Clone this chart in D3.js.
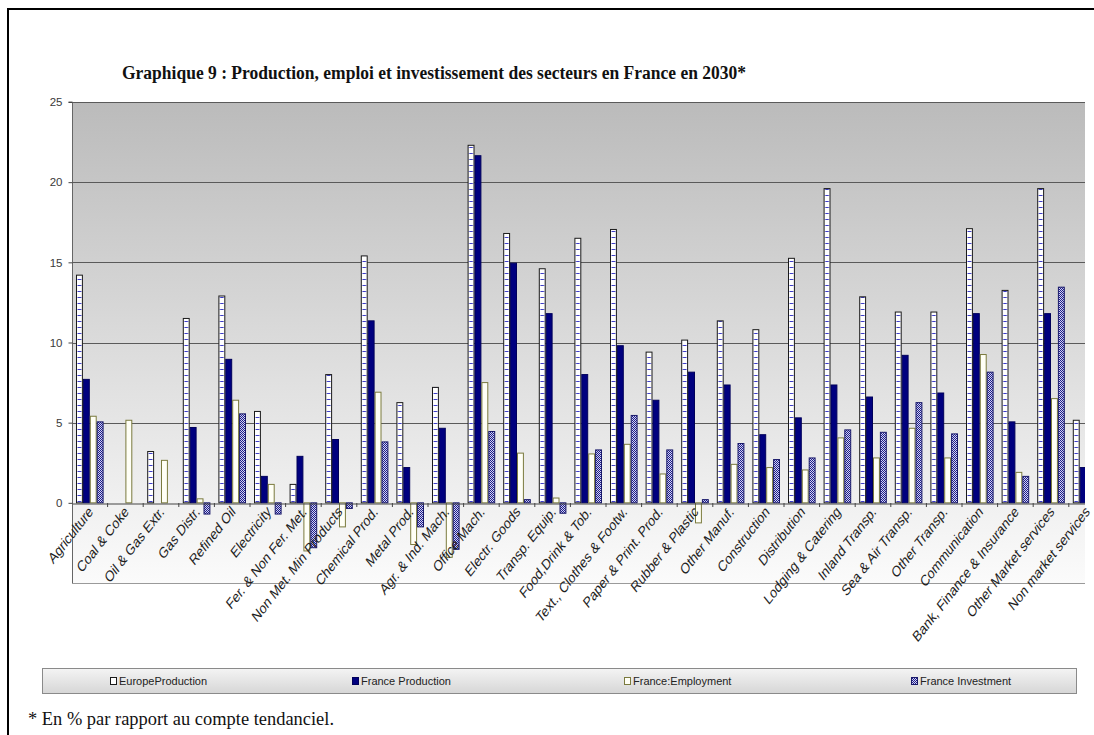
<!DOCTYPE html>
<html>
<head>
<meta charset="utf-8">
<script src="https://cdn.jsdelivr.net/npm/d3@7"></script>
<style>
  html, body { margin: 0; padding: 0; background: #fff; }
  svg { display: block; }
</style>
</head>
<body>
<svg id="chart" width="1094" height="735"></svg>
<script>
// ---------- DATA ----------
const categories = ["Agriculture", "Coal & Coke", "Oil & Gas Extr.", "Gas Distr.", "Refined Oil", "Electricity",
  "Fer. & Non Fer. Met.", "Non Met. Min Products", "Chemical Prod.", "Metal Prod.", "Agr. & Ind. Mach.",
  "Office Mach.", "Electr. Goods", "Transp. Equip.", "Food,Drink & Tob.", "Text., Clothes & Footw.",
  "Paper & Print. Prod.", "Rubber & Plastic", "Other Manuf.", "Construction", "Distribution",
  "Lodging & Catering", "Inland Transp.", "Sea & Air Transp.", "Other Transp.", "Communication",
  "Bank, Finance & Insurance", "Other Market services", "Non market services"];
const seriesNames = ["EuropeProduction", "France Production", "France:Employment", "France Investment"];
const europeProduction = [14.2, 0, 3.2, 11.5, 12.9, 5.7, 1.15, 8.0, 15.4, 6.25, 7.2, 22.3, 16.8, 14.6, 16.5, 17.05,
  9.4, 10.15, 11.35, 10.8, 15.25, 19.6, 12.85, 11.9, 11.9, 17.1, 13.25, 19.6, 5.15];
const franceProduction = [7.7, 0, 0, 4.7, 8.95, 1.65, 2.9, 3.95, 11.35, 2.2, 4.65, 21.65, 14.95, 11.8, 8.0, 9.8,
  6.4, 8.15, 7.35, 4.25, 5.3, 7.35, 6.6, 9.2, 6.85, 11.8, 5.05, 11.8, 2.2];
const franceEmployment = [5.4, 5.15, 2.65, 0.25, 6.4, 1.15, -3.0, -1.5, 6.9, -2.6, -3.4, 7.5, 3.1, 0.3, 3.05, 3.65,
  1.8, -1.25, 2.4, 2.2, 2.05, 4.05, 2.8, 4.65, 2.8, 9.25, 1.9, 6.5, null];
const franceInvestment = [5.05, 0, 0, -0.7, 5.55, -0.7, -2.8, -0.35, 3.8, -1.5, -2.9, 4.45, 0.2, -0.65, 3.3, 5.45,
  3.3, 0.2, 3.7, 2.7, 2.8, 4.55, 4.4, 6.25, 4.3, 8.15, 1.65, 13.45, null];
const yTicks = [0, 5, 10, 15, 20, 25];
const titleText = "Graphique 9 : Production, emploi et investissement des secteurs en France en 2030*";
const noteText = "* En % par rapport au compte tendanciel.";

// ---------- LAYOUT ----------
const W = 1094, H = 735;
const plot = { left: 72, top: 102, bottom: 583, visibleRight: 1085, step: 35.6 };
const svg = d3.select("#chart");
const defs = svg.append("defs");

const g1 = defs.append("linearGradient").attr("id", "plotBg").attr("x1", 0).attr("y1", 0).attr("x2", 0).attr("y2", 1);
g1.append("stop").attr("offset", "0%").attr("stop-color", "#bbbbbb");
g1.append("stop").attr("offset", "100%").attr("stop-color", "#fbfbfb");
const g2 = defs.append("linearGradient").attr("id", "legBg").attr("x1", 0).attr("y1", 0).attr("x2", 0).attr("y2", 1);
g2.append("stop").attr("offset", "0%").attr("stop-color", "#f4f4f4");
g2.append("stop").attr("offset", "100%").attr("stop-color", "#d6d6d6");

// scales
const x0 = d3.scaleBand().domain(categories)
  .range([plot.left, plot.left + plot.step * categories.length]).paddingInner(0).paddingOuter(0);
const x1 = d3.scaleBand().domain(seriesNames).range([4, plot.step - 4]).padding(0);
const y = d3.scaleLinear().domain([-5, 25]).range([plot.bottom, plot.top]);

// Europe pattern: white with short blue dashes, repeating once per category so it lines up with each bar
const bw = x1.bandwidth();
const pE = defs.append("pattern").attr("id", "patEurope").attr("patternUnits", "userSpaceOnUse")
  .attr("x", plot.left).attr("y", 0).attr("width", plot.step).attr("height", 6);
pE.append("rect").attr("width", plot.step).attr("height", 6).attr("fill", "#ffffff");
pE.append("rect").attr("x", x1(seriesNames[0]) + 1.5).attr("y", 3).attr("width", bw - 3).attr("height", 1)
  .attr("fill", "#3c3cc8");
const pI = defs.append("pattern").attr("id", "patInv").attr("patternUnits", "userSpaceOnUse")
  .attr("width", 2).attr("height", 2);
pI.append("rect").attr("width", 2).attr("height", 2).attr("fill", "#d4d4f0");
pI.append("rect").attr("width", 1).attr("height", 1).attr("fill", "#1c1c8c");
pI.append("rect").attr("x", 1).attr("y", 1).attr("width", 1).attr("height", 1).attr("fill", "#1c1c8c");

defs.append("clipPath").attr("id", "plotClip").append("rect")
  .attr("x", plot.left).attr("y", 0).attr("width", plot.visibleRight - plot.left).attr("height", H);

svg.append("rect").attr("width", W).attr("height", H).attr("fill", "#ffffff");

// outer frame
svg.append("path").attr("d", `M8,${H + 5} L8,9 L${W + 5},9`).attr("fill", "none")
  .attr("stroke", "#000").attr("stroke-width", 2);

const clipG = svg.append("g").attr("clip-path", "url(#plotClip)");
clipG.append("rect").attr("x", plot.left).attr("y", plot.top)
  .attr("width", plot.visibleRight - plot.left).attr("height", plot.bottom - plot.top)
  .attr("fill", "url(#plotBg)");
clipG.append("line").attr("x1", plot.left).attr("x2", plot.visibleRight)
  .attr("y1", plot.bottom + 0.5).attr("y2", plot.bottom + 0.5).attr("stroke", "#9a9a9a");

// gridlines
clipG.selectAll("line.grid").data(yTicks.filter(d => d > 0)).join("line").attr("class", "grid")
  .attr("x1", plot.left).attr("x2", plot.visibleRight)
  .attr("y1", d => Math.round(y(d)) + 0.5).attr("y2", d => Math.round(y(d)) + 0.5)
  .attr("stroke", "#5a5a5a").attr("stroke-width", 1);

// y axis
const yAxis = d3.axisLeft(y).tickValues(yTicks).tickSize(4).tickPadding(6).tickFormat(d3.format("d"));
const yAxisG = svg.append("g").attr("transform", `translate(${plot.left + 0.5},0)`).call(yAxis);
yAxisG.select(".domain").attr("stroke", "#666").attr("d", `M-4,${y(25)}H0V${y(-5)}`);
yAxisG.selectAll(".tick line").attr("stroke", "#444");
yAxisG.selectAll(".tick text").attr("font-family", "Arial, 'Liberation Sans', sans-serif")
  .attr("font-size", 11.5).attr("fill", "#3a3a3a");

// bars
const seriesData = [europeProduction, franceProduction, franceEmployment, franceInvestment];
const fills = ["url(#patEurope)", "#00007f", "#fffff6", "url(#patInv)"];
const strokes = ["#1a1a1a", "#00005a", "#7a7a3e", "#1a1a6a"];
const barsG = clipG.append("g");
categories.forEach((c, i) => {
  const rows = seriesNames.map((s, k) => ({ s, k, v: seriesData[k][i] }))
    .filter(d => d.v !== null && d.v !== 0);
  barsG.selectAll(null).data(rows).join("rect")
    .attr("x", d => x0(c) + x1(d.s) + 0.5)
    .attr("width", bw - 1)
    .attr("y", d => y(Math.max(0, d.v)))
    .attr("height", d => Math.abs(y(d.v) - y(0)))
    .attr("fill", d => fills[d.k])
    .attr("stroke", d => strokes[d.k]).attr("stroke-width", 1);
});

// zero axis with ticks at category boundaries
const xAxis = d3.axisBottom(x0).tickSize(0).tickFormat("");
const xAxisG = clipG.append("g").attr("transform", `translate(0,${Math.round(y(0)) + 0.5})`).call(xAxis);
xAxisG.select(".domain").attr("stroke", "#444");
clipG.selectAll("line.btick").data(d3.range(categories.length + 1)).join("line").attr("class", "btick")
  .attr("x1", i => plot.left + i * plot.step).attr("x2", i => plot.left + i * plot.step)
  .attr("y1", Math.round(y(0))).attr("y2", Math.round(y(0)) + 4).attr("stroke", "#444");

// category labels (rotated)
svg.append("g").selectAll("text").data(categories).join("text")
  .attr("transform", d => `translate(${x0(d) + x0.bandwidth() / 2 + 1},${y(0) + 6}) scale(1,1.28) rotate(-45)`)
  .attr("text-anchor", "end").attr("dy", "0.35em")
  .attr("font-family", "Arial, 'Liberation Sans', sans-serif").attr("font-size", 12)
  .attr("fill", "#1e1e1e").text(d => d);

// title
svg.append("text").attr("x", 122).attr("y", 79)
  .attr("font-family", "'Liberation Serif', 'Times New Roman', serif").attr("font-weight", "bold")
  .attr("font-size", 18).attr("textLength", 624).attr("lengthAdjust", "spacingAndGlyphs")
  .attr("fill", "#111").text(titleText);

// legend
const leg = svg.append("g");
leg.append("rect").attr("x", 42.5).attr("y", 668.5).attr("width", 1034).attr("height", 25)
  .attr("fill", "url(#legBg)").attr("stroke", "#8a8a8a");
const legX = [110, 352, 624, 911];
seriesNames.forEach((s, k) => {
  leg.append("rect").attr("x", legX[k] + 0.5).attr("y", 677.5).attr("width", 6).attr("height", 7)
    .attr("fill", k === 0 ? "#ffffff" : fills[k]).attr("stroke", strokes[k]);
  leg.append("text").attr("x", legX[k] + 9).attr("y", 685)
    .attr("font-family", "Arial, 'Liberation Sans', sans-serif").attr("font-size", 11)
    .attr("fill", "#222").text(s);
});

// footnote
svg.append("text").attr("x", 28).attr("y", 725)
  .attr("font-family", "'Liberation Serif', 'Times New Roman', serif")
  .attr("font-size", 18).attr("textLength", 306).attr("lengthAdjust", "spacingAndGlyphs")
  .attr("fill", "#111").text(noteText);
</script>
</body>
</html>
